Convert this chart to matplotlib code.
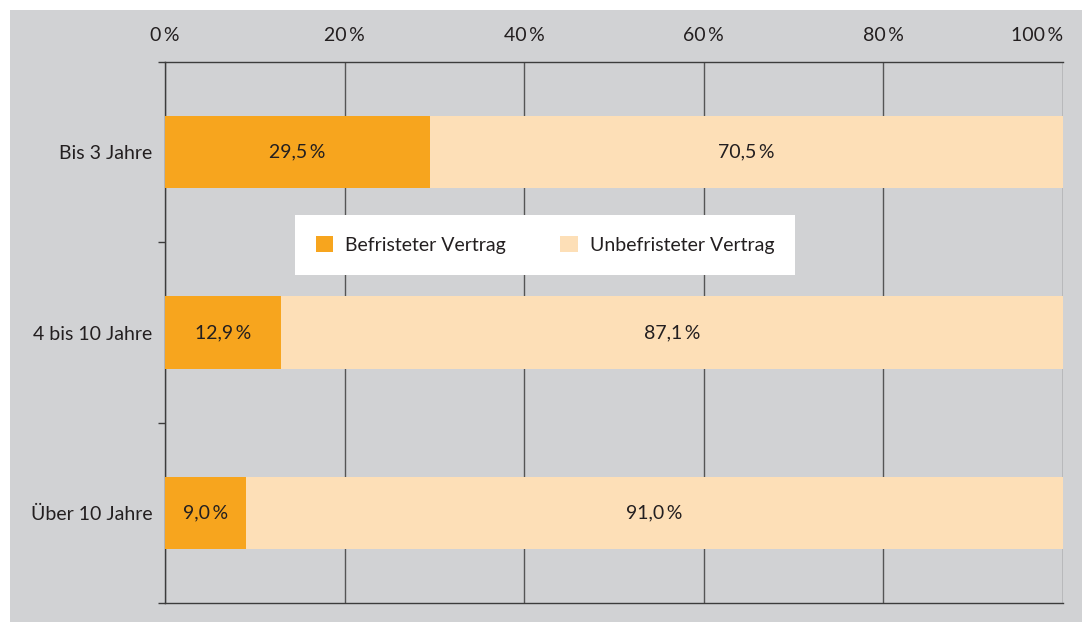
import numpy as np
import matplotlib.pyplot as plt
from matplotlib.patches import Rectangle, Patch

plt.rcParams['font.family'] = ['Lato', 'DejaVu Sans']

kategorien = ["Bis 3 Jahre", "4 bis 10 Jahre", "Über 10 Jahre"]
befristet = [29.5, 12.9, 9.0]
unbefristet = [70.5, 87.1, 91.0]
serien = ["Befristeter Vertrag", "Unbefristeter Vertrag"]
xticks = [0, 20, 40, 60, 80, 100]

orange = "#F7A51E"
hell = "#FDDFB7"
grau = "#D1D2D4"
text_c = "#231F20"
linie = "#3C3C3C"

fig = plt.figure(figsize=(10.88, 6.22), dpi=100, facecolor="white")
# grauer Hintergrund
fig.patches.append(Rectangle((10 / 1088, 0), 1072 / 1088, 612 / 622,
                             transform=fig.transFigure, facecolor=grau,
                             edgecolor="none", zorder=-5))

ax = fig.add_axes([165 / 1088, 1 - 603 / 622, 898 / 1088, 541 / 622])
ax.set_facecolor(grau)

y = np.arange(len(kategorien))
ax.barh(y, befristet, height=0.4, color=orange, zorder=3, label=serien[0])
ax.barh(y, unbefristet, left=befristet, height=0.4, color=hell, zorder=3,
        label=serien[1])

def fmt(v):
    return ("%.1f" % v).replace(".", ",") + "\u2009%"

fs = 14
for i in range(len(kategorien)):
    ax.text(befristet[i] / 2, y[i], fmt(befristet[i]), ha="center",
            va="center", fontsize=fs, color=text_c, zorder=4)
    ax.text(befristet[i] + unbefristet[i] / 2, y[i], fmt(unbefristet[i]),
            ha="center", va="center", fontsize=fs, color=text_c, zorder=4)

ax.set_xlim(0, 100)
ax.set_ylim(2.5, -0.5)
ax.set_xticks(xticks)
ax.set_xticklabels([str(v) + "\u2009%" for v in xticks])
ax.xaxis.tick_top()
ax.tick_params(axis="x", length=0, pad=13, labelsize=fs, labelcolor=text_c)
ax.get_xticklabels()[-1].set_horizontalalignment("right")
ax.set_yticks(y)
ax.set_yticklabels(kategorien)
ax.tick_params(axis="y", which="major", length=0, pad=9, labelsize=fs,
               labelcolor=text_c)
ax.set_yticks([-0.5, 0.5, 1.5, 2.5], minor=True)
ax.tick_params(axis="y", which="minor", length=5, width=1, color=linie)

ax.grid(axis="x", color="#555555", linewidth=1, zorder=1)
ax.set_axisbelow(True)
for s in ["left", "top", "bottom"]:
    ax.spines[s].set_color(linie)
    ax.spines[s].set_linewidth(1)
ax.spines["right"].set_visible(False)

handles = [Patch(facecolor=orange, label=serien[0]),
           Patch(facecolor=hell, label=serien[1])]
leg = fig.legend(handles=handles, loc="center",
                 bbox_to_anchor=(545 / 1088, 1 - 245 / 622), ncol=2,
                 frameon=True, fancybox=False, fontsize=fs,
                 handlelength=0.9, handleheight=0.9, columnspacing=2.8,
                 handletextpad=0.6, borderpad=1.1, borderaxespad=0)
leg.get_frame().set_facecolor("white")
leg.get_frame().set_edgecolor("none")
leg.get_frame().set_alpha(1)
for t in leg.get_texts():
    t.set_color(text_c)

fig.savefig("out.png", dpi=100, facecolor="white")
